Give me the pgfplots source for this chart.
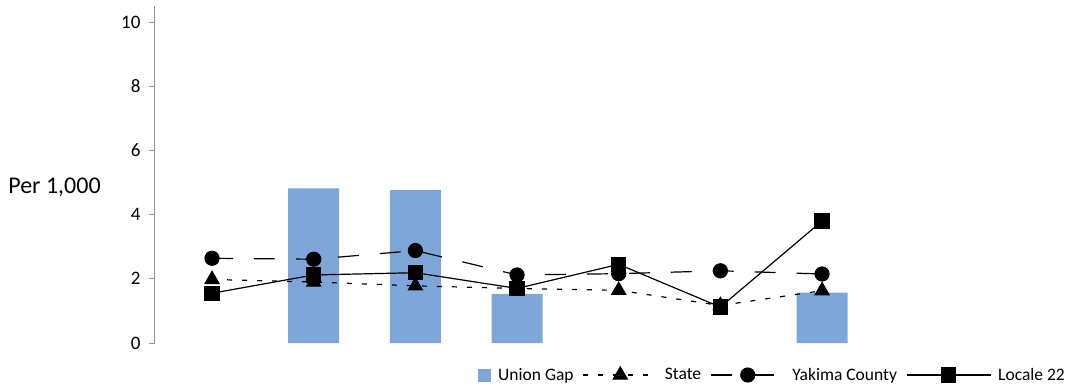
\documentclass[border=0pt]{standalone}
\usepackage{pgfplots}
\pgfplotsset{compat=1.18}
\usepackage{fontspec}
\setmainfont{Carlito}
\definecolor{barblue}{RGB}{126,166,216}
\definecolor{axgray}{RGB}{150,150,150}
\pgfplotsset{
  lineleg/.style={legend image code/.code={\draw[mark repeat=2,mark phase=2,##1] plot coordinates {(0pt,0pt) (37pt,0pt) (74pt,0pt)};}},
  lineleglong/.style={legend image code/.code={\draw[mark repeat=2,mark phase=2,##1] plot coordinates {(0pt,0pt) (42pt,0pt) (84pt,0pt)};}},
  barleg/.style={legend image code/.code={\fill[barblue] (0pt,-6.5pt) rectangle (13pt,6.5pt);}},
}
\begin{document}
\begin{tikzpicture}
\path[use as bounding box] (-155pt,-45pt) rectangle (913pt,343pt);
\begin{axis}[
  at={(0pt,0pt)}, anchor=south west,
  scale only axis, width=724pt, height=337pt,
  xmin=-0.561, xmax=6.56, ymin=0, ymax=10.5,
  axis y line*=left, axis x line=none,
  ytick={0,2,4,6,8,10}, xtick=\empty,
  y axis line style={axgray, line width=1pt},
  ytick style={axgray, line width=1pt},
  tick align=outside, major tick length=6pt,
  yticklabel style={font=\fontsize{19}{21}\selectfont, text=black, xshift=-5pt},
  /pgf/number format/assume math mode=true,
  clip=false,
  legend columns=4,
  legend style={at={(1.2597,-0.095)}, anchor=east, draw=none, fill=none, inner sep=0pt,
    font=\fontsize{17.5}{19}\selectfont,
    /tikz/every odd column/.append style={column sep=5pt},
    /tikz/every even column/.append style={column sep=7pt}},
]
\addplot[ybar, bar width=51pt, fill=barblue, draw=none, barleg]
  coordinates {(1,4.82) (2,4.76) (3,1.53) (6,1.57)};
\addlegendentry{Union Gap}
\addplot[black, line width=1.2pt, dash pattern=on 5pt off 10pt, mark=triangle*, mark size=8pt,
  mark options={solid}, lineleg]
  coordinates {(0,1.98) (1,1.90) (2,1.78) (3,1.70) (4,1.64) (5,1.17) (6,1.63)};
\addlegendentry{State}
\addplot[black, line width=1.2pt, dash pattern=on 21pt off 21pt, mark=*, mark size=7pt,
  mark options={solid}, lineleg]
  coordinates {(0,2.64) (1,2.61) (2,2.88) (3,2.12) (4,2.16) (5,2.25) (6,2.15)};
\addlegendentry{Yakima County}
\addplot[black, line width=1.2pt, mark=square*, mark size=7pt, lineleglong]
  coordinates {(0,1.55) (1,2.12) (2,2.19) (3,1.70) (4,2.45) (5,1.12) (6,3.80)};
\addlegendentry{Locale 22}
\end{axis}
\node[font=\fontsize{24}{26}\selectfont] at (-100.5pt,156pt) {Per 1,000};
\end{tikzpicture}
\end{document}
